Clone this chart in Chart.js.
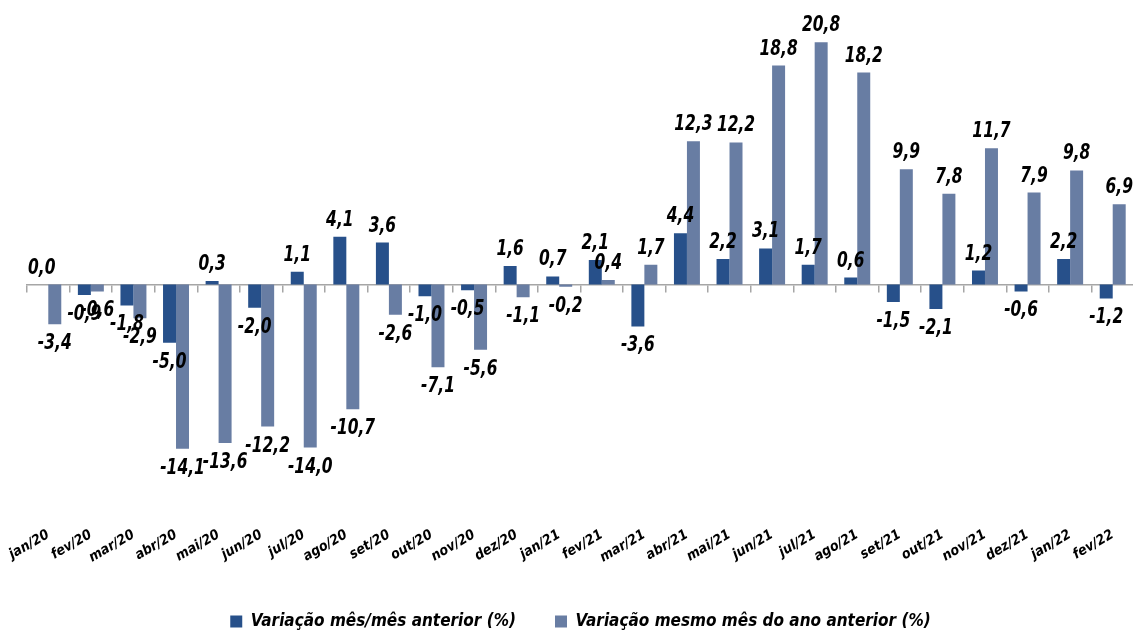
<!DOCTYPE html>
<html>
<head>
<meta charset="utf-8">
<script src="https://cdn.jsdelivr.net/npm/chart.js@4.4.1/dist/chart.umd.min.js"></script>
<style>
  html, body { margin: 0; padding: 0; background: #fff; overflow: hidden; }
  #wrap { width: 1150px; height: 630px; }
</style>
</head>
<body>
<div id="wrap"><canvas id="myChart"></canvas></div>
<script>
const months = ['jan/20','fev/20','mar/20','abr/20','mai/20','jun/20','jul/20','ago/20','set/20','out/20','nov/20','dez/20',
  'jan/21','fev/21','mar/21','abr/21','mai/21','jun/21','jul/21','ago/21','set/21','out/21','nov/21','dez/21','jan/22','fev/22'];
const mesAnterior = [0.0,-0.9,-1.8,-5.0,0.3,-2.0,1.1,4.1,3.6,-1.0,-0.5,1.6,0.7,2.1,-3.6,4.4,2.2,3.1,1.7,0.6,-1.5,-2.1,1.2,-0.6,2.2,-1.2];
const anoAnterior = [-3.4,-0.6,-2.9,-14.1,-13.6,-12.2,-14.0,-10.7,-2.6,-7.1,-5.6,-1.1,-0.2,0.4,1.7,12.3,12.2,18.8,20.8,18.2,9.9,7.8,11.7,7.9,9.8,6.9];

const FONT = "'DejaVu Sans Condensed', 'Liberation Sans', sans-serif";

// value labels, squeezed horizontally to look like a condensed face
const valueLabels = {
  id: 'valueLabels',
  afterDatasetsDraw(chart) {
    const ctx = chart.ctx;
    const sx = 0.82;
    chart.data.datasets.forEach((ds, di) => {
      const meta = chart.getDatasetMeta(di);
      meta.data.forEach((bar, i) => {
        const v = ds.data[i];
        const txt = v.toFixed(1).replace('.', ',');
        ctx.save();
        ctx.font = 'italic bold 21px ' + FONT;
        ctx.fillStyle = '#000';
        ctx.textAlign = 'center';
        ctx.translate(bar.x, 0);
        ctx.scale(sx, 1);
        if (v >= 0) {
          ctx.textBaseline = 'alphabetic';
          ctx.fillText(txt, 0, bar.y - 11);
        } else {
          ctx.textBaseline = 'top';
          ctx.fillText(txt, 0, bar.y + 9);
        }
        ctx.restore();
      });
    });
  }
};

const ctx = document.getElementById('myChart');

new Chart(ctx, {
  type: 'bar',
  data: {
    labels: months,
    datasets: [
      {
        label: 'Variação mês/mês anterior (%)',
        data: mesAnterior,
        backgroundColor: '#27508a',
        barPercentage: 1,
        categoryPercentage: 0.61
      },
      {
        label: 'Variação mesmo mês do ano anterior (%)',
        data: anoAnterior,
        backgroundColor: '#687da3',
        barPercentage: 1,
        categoryPercentage: 0.61
      }
    ]
  },
  plugins: [valueLabels],
  options: {
    responsive: true,
    maintainAspectRatio: false,
    animation: false,
    layout: { padding: { left: 27, right: 16, top: 26, bottom: -10 } },
    plugins: {
      tooltip: { enabled: false },
      legend: {
        position: 'bottom',
        labels: {
          boxWidth: 12,
          boxHeight: 12,
          padding: 39,
          color: '#000',
          font: { family: FONT, size: 17, style: 'italic', weight: 'bold' }
        }
      }
    },
    scales: {
      x: {
        grid: { display: false },
        border: { display: false },
        ticks: {
          color: '#000',
          minRotation: 30,
          maxRotation: 30,
          padding: 8,
          font: { family: FONT, size: 14, style: 'italic', weight: 'bold' }
        }
      },
      x2: {
        type: 'category',
        labels: months,
        position: { y: 0 },
        offset: true,
        grid: { offset: true, drawOnChartArea: false, tickLength: 7, color: '#a6a6a6', lineWidth: 1.5 },
        border: { color: '#a6a6a6', width: 1.5 },
        ticks: { display: false }
      },
      y: {
        display: false,
        min: -19.4,
        max: 22.2
      }
    }
  }
});
</script>
</body>
</html>
